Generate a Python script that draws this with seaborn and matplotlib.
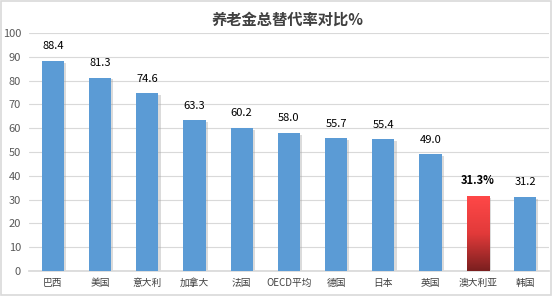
import matplotlib
matplotlib.use("Agg")
import matplotlib.pyplot as plt
import seaborn as sns
import numpy as np
import pandas as pd
from matplotlib.colors import LinearSegmentedColormap
from matplotlib.patches import Rectangle

categories = ["巴西", "美国", "意大利", "加拿大", "法国", "OECD平均", "德国", "日本", "英国", "澳大利亚", "韩国"]
values = [88.4, 81.3, 74.6, 63.3, 60.2, 58.0, 55.7, 55.4, 49.0, 31.3, 31.2]
labels = ["88.4", "81.3", "74.6", "63.3", "60.2", "58.0", "55.7", "55.4", "49.0", "31.3%", "31.2"]
highlight = "澳大利亚"
title = "养老金总替代率对比%"

sns.set_theme(style="white")
plt.rcParams['font.family'] = ['Noto Sans CJK SC', 'DejaVu Sans']

df = pd.DataFrame({"cat": categories, "val": values})
fig = plt.figure(figsize=(5.53, 2.96), dpi=100)
ax = fig.add_axes([0.053, 0.0845, 0.939, 0.804])

blue = "#5B9BD5"
palette = [blue] * len(categories)
sns.barplot(data=df, x="cat", y="val", hue="cat", palette=palette, legend=False,
            width=0.47, ax=ax, saturation=1, zorder=3, linewidth=0)

cmap = LinearSegmentedColormap.from_list("rg", ["#7A1F1F", "#E23A3A", "#FF4848"])
for patch, cat in zip(ax.patches, categories):
    x0, y0 = patch.get_x(), patch.get_y()
    w, h = patch.get_width(), patch.get_height()
    sh = Rectangle((x0 + 0.045, y0), w, h - 0.8, facecolor="#a6a6a6", alpha=0.4,
                   edgecolor="none", zorder=2)
    ax.add_patch(sh)
    if cat == highlight:
        patch.set_facecolor("none")
        grad = np.linspace(0, 1, 256).reshape(-1, 1)
        im = ax.imshow(grad, cmap=cmap, aspect="auto", extent=(x0, x0 + w, y0, y0 + h),
                       zorder=3, origin="lower")
        im.set_clip_path(patch)

for i, (v, lab, cat) in enumerate(zip(values, labels, categories)):
    ax.text(i, v + 4, lab, ha="center", va="bottom", fontsize=8,
            fontweight="bold" if cat == highlight else "normal", color="#000000")

ax.set_ylim(0, 100)
ax.set_xlim(-0.5, len(categories) - 0.5)
ax.set_yticks(range(0, 101, 10))
ax.yaxis.grid(True, color="#d9d9d9", linewidth=0.8, zorder=0)
ax.set_axisbelow(True)
for s in ["top", "right", "left"]:
    ax.spines[s].set_visible(False)
ax.spines["bottom"].set_color("#d9d9d9")
ax.tick_params(axis="y", labelsize=8, labelcolor="#595959", length=0, pad=6)
ax.tick_params(axis="x", labelsize=7, labelcolor="#404040", length=0, pad=5)
ax.set_xlabel("")
ax.set_ylabel("")
fig.text(0.52, 0.935, title, ha="center", va="center", fontsize=11, fontweight="bold", color="#404040")

border = Rectangle((0.002, 0.003), 0.995, 0.993, transform=fig.transFigure, fill=False,
                   edgecolor="#d9d9d9", linewidth=1.2)
fig.patches.append(border)

fig.savefig("out.png", dpi=100)
